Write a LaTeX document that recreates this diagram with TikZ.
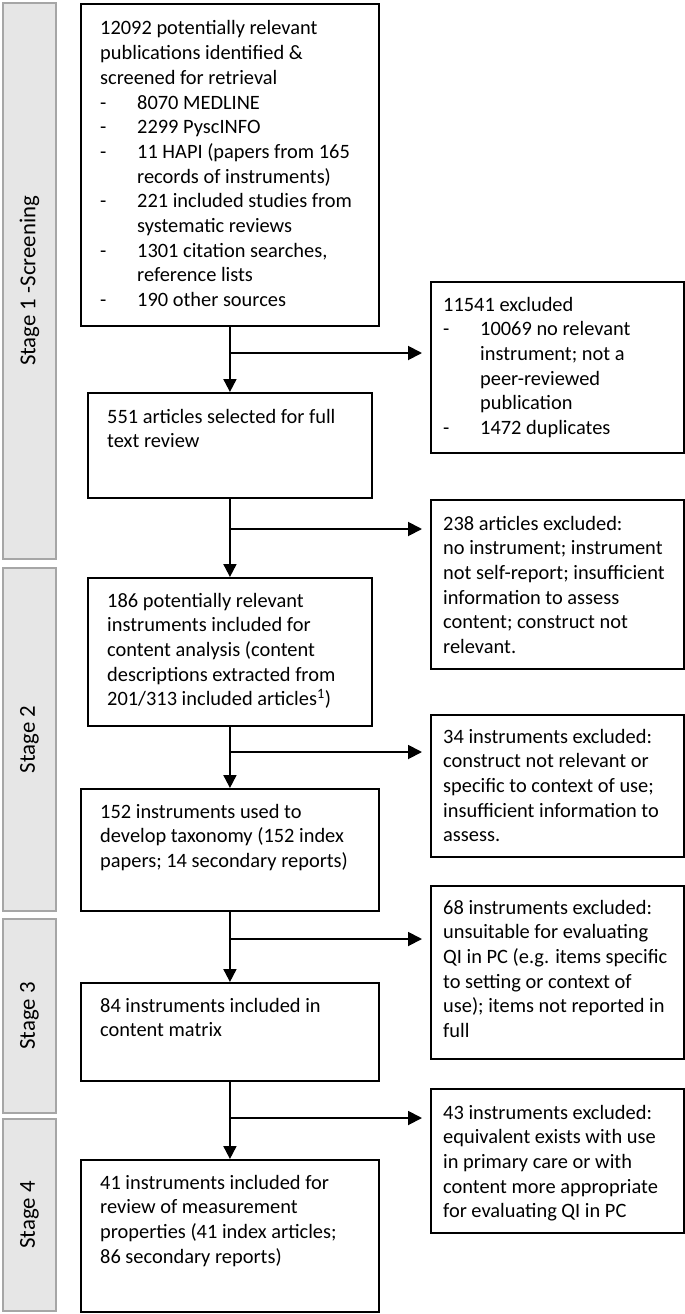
\documentclass[tikz,border=0pt]{standalone}
\usepackage{fontspec}
\setmainfont{Carlito}
\usetikzlibrary{arrows.meta}
\definecolor{barfill}{HTML}{E6E6E6}
\definecolor{barline}{HTML}{A6A6A6}
\newcommand\dashitem{\makebox[37pt][l]{-}}
\newcommand\contind{\hspace*{37pt}}
\begin{document}
\begin{tikzpicture}[x=1pt,y=-1pt,
  box/.style={draw=black, line width=1.9pt, inner sep=0, anchor=north west},
  stagebar/.style={draw=barline, fill=barfill, line width=2pt, inner sep=0, anchor=north west, minimum width=53pt},
  stagelabel/.style={rotate=90, inner sep=0, font=\fontsize{22.8}{27}\selectfont},
  txt/.style={anchor=base west, inner sep=0, font=\fontsize{20.4}{24.7}\selectfont},
  flow/.style={line width=1.9pt, -{Triangle[length=13pt,width=13pt]}},
  side/.style={line width=1.9pt, -{Triangle[length=14pt,width=14pt]}, shorten >=8pt}]
\useasboundingbox (0,0) rectangle (685,1314);

% stage bars
\node[stagebar, minimum height=556pt] (s1) at (2,2) {};
\node[stagebar, minimum height=343pt] (s2) at (2,567) {};
\node[stagebar, minimum height=194pt] (s3) at (2,918) {};
\node[stagebar, minimum height=192pt] (s4) at (2,1118) {};
\node[stagelabel] (l1) at (s1.center) {Stage 1 -Screening};
\node[stagelabel] (l2) at (s2.center) {Stage 2};
\node[stagelabel] (l3) at (s3.center) {Stage 3};
\node[stagelabel] (l4) at (s4.center) {Stage 4};

% main boxes
\node[box, minimum width=298pt, minimum height=322pt] (b1) at (80,3) {};
\node[box, minimum width=284pt, minimum height=105pt] (b2) at (87,392) {};
\node[box, minimum width=284pt, minimum height=148pt] (b3) at (87,577) {};
\node[box, minimum width=298pt, minimum height=122pt] (b4) at (80,788) {};
\node[box, minimum width=298pt, minimum height=98pt] (b5) at (80,982) {};
\node[box, minimum width=298pt, minimum height=152pt] (b6) at (80,1159) {};

% exclusion boxes
\node[box, minimum width=253pt, minimum height=171pt] (e1) at (430,281) {};
\node[box, minimum width=253pt, minimum height=169pt] (e2) at (430,499) {};
\node[box, minimum width=253pt, minimum height=142pt] (e3) at (430,714) {};
\node[box, minimum width=253pt, minimum height=173pt] (e4) at (430,885) {};
\node[box, minimum width=253pt, minimum height=144pt] (e5) at (430,1088) {};

% texts
\node[txt] (t1) at (100,35) {\parbox[t]{290pt}{\raggedright
12092 potentially relevant\\
publications identified \&\\
screened for retrieval\\
\dashitem 8070 MEDLINE\\
\dashitem 2299 PyscINFO\\
\dashitem 11 HAPI (papers from 165\\
\contind records of instruments)\\
\dashitem 221 included studies from\\
\contind systematic reviews\\
\dashitem 1301 citation searches,\\
\contind reference lists\\
\dashitem 190 other sources}};

\node[txt] (te1) at (443,311) {\parbox[t]{240pt}{\raggedright
11541 excluded\\
\dashitem 10069 no relevant\\
\contind instrument; not a\\
\contind peer-reviewed\\
\contind publication\\
\dashitem 1472 duplicates}};

\node[txt] (t2) at (107,423) {\parbox[t]{270pt}{\raggedright
551 articles selected for full\\
text review}};

\node[txt] (te2) at (443,530) {\parbox[t]{240pt}{\raggedright
238 articles excluded:\\
no instrument; instrument\\
not self-report; insufficient\\
information to assess\\
content; construct not\\
relevant.}};

\node[txt] (t3) at (107,607) {\parbox[t]{270pt}{\raggedright
186 potentially relevant\\
instruments included for\\
content analysis (content\\
descriptions extracted from\\
201/313 included articles\textsuperscript{1})}};

\node[txt] (te3) at (443,743) {\parbox[t]{240pt}{\raggedright
34 instruments excluded:\\
construct not relevant or\\
specific to context of use;\\
insufficient information to\\
assess.}};

\node[txt] (t4) at (100,818) {\parbox[t]{290pt}{\raggedright
152 instruments used to\\
develop taxonomy (152 index\\
papers; 14 secondary reports)}};

\node[txt] (te4) at (443,914) {\parbox[t]{240pt}{\raggedright
68 instruments excluded:\\
unsuitable for evaluating\\
QI in PC (e.g. items specific\\
to setting or context of\\
use); items not reported in\\
full}};

\node[txt] (t5) at (100,1012) {\parbox[t]{290pt}{\raggedright
84 instruments included in\\
content matrix}};

\node[txt] (te5) at (443,1119) {\parbox[t]{240pt}{\raggedright
43 instruments excluded:\\
equivalent exists with use\\
in primary care or with\\
content more appropriate\\
for evaluating QI in PC}};

\node[txt] (t6) at (100,1189) {\parbox[t]{290pt}{\raggedright
41 instruments included for\\
review of measurement\\
properties (41 index articles;\\
86 secondary reports)}};

% junctions
\coordinate (j1) at (229,353);
\coordinate (j2) at (229,529);
\coordinate (j3) at (229,752);
\coordinate (j4) at (229,939);
\coordinate (j5) at (229,1118);

% connectors
\draw[flow] (b1.south) -- (b2.north);
\draw[flow] (b2.south) -- (b3.north);
\draw[flow] (b3.south) -- (b4.north);
\draw[flow] (b4.south) -- (b5.north);
\draw[flow] (b5.south) -- (b6.north);
\draw[side] (j1) -- (j1 -| e1.west);
\draw[side] (j2) -- (j2 -| e2.west);
\draw[side] (j3) -- (j3 -| e3.west);
\draw[side] (j4) -- (j4 -| e4.west);
\draw[side] (j5) -- (j5 -| e5.west);
\end{tikzpicture}
\end{document}
